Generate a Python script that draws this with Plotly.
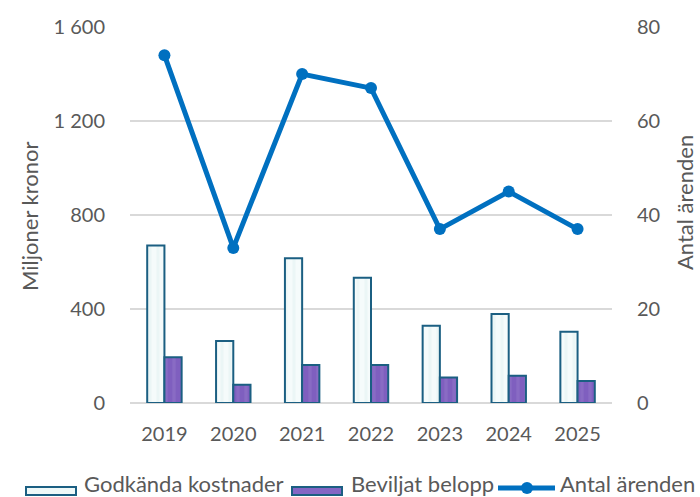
import plotly.graph_objects as go

years = ["2019", "2020", "2021", "2022", "2023", "2024", "2025"]
godkanda = [670, 264, 616, 533, 329, 379, 303]
beviljat = [195, 78, 162, 162, 108, 116, 94]
antal = [74, 33, 70, 67, 37, 45, 37]

left_ticks = [0, 400, 800, 1200, 1600]
left_ticktext = ["0", "400", "800", "1 200", "1 600"]
right_ticks = [0, 20, 40, 60, 80]

FONT = "Lato"
TXT = "#595959"
EDGE = "#1b5f82"
LINE = "#0070c0"

W, H = 700, 497
ML, MR, MT, MB = 130, 88, 27, 94
PW, PH = W - ML - MR, H - MT - MB


def px(x):
    return (x - ML) / PW


def py(y):
    return (H - MB - y) / PH


fig = go.Figure()
fig.add_trace(go.Bar(
    x=years, y=godkanda, name="Godkända kostnader", showlegend=False,
    marker=dict(color="#f3fafa", line=dict(color=EDGE, width=2),
                pattern=dict(shape="|", fgcolor="#e2f2f2", bgcolor="#f5fbfb", size=8, solidity=0.4)),
))
fig.add_trace(go.Bar(
    x=years, y=beviljat, name="Beviljat belopp", showlegend=False,
    marker=dict(color="#8464c2", line=dict(color=EDGE, width=2),
                pattern=dict(shape="|", fgcolor="#9377ca", bgcolor="#7f5fbf", size=8, solidity=0.4)),
))
fig.add_trace(go.Scatter(
    x=years, y=antal, name="Antal ärenden", yaxis="y2", showlegend=False,
    mode="lines+markers",
    line=dict(color=LINE, width=5),
    marker=dict(color=LINE, size=12),
))

# legend drawn manually (wide swatches as in the reference)
shapes = [
    dict(type="rect", xref="paper", yref="paper", x0=px(26), x1=px(76), y0=py(495), y1=py(487),
         fillcolor="#eef8f8", line=dict(color=EDGE, width=2)),
    dict(type="rect", xref="paper", yref="paper", x0=px(292), x1=px(342), y0=py(495), y1=py(487),
         fillcolor="#8466c4", line=dict(color=EDGE, width=2)),
    dict(type="line", xref="paper", yref="paper", x0=px(498), x1=px(555), y0=py(488), y1=py(488),
         line=dict(color=LINE, width=5)),
    dict(type="circle", xref="paper", yref="paper", x0=px(521), x1=px(533), y0=py(494), y1=py(482),
         fillcolor=LINE, line=dict(color=LINE, width=0)),
]
legend_labels = ["Godkända kostnader", "Beviljat belopp", "Antal ärenden"]
legend_x = [82, 349, 558]
annotations = [
    dict(text=t, xref="paper", yref="paper", x=px(xx), y=py(483), xanchor="left", yanchor="middle",
         showarrow=False, font=dict(size=22, color=TXT, family=FONT))
    for t, xx in zip(legend_labels, legend_x)
]
annotations += [
    dict(text="Miljoner kronor", xref="paper", yref="paper", x=px(29), y=py(216),
         xanchor="center", yanchor="middle", textangle=-90, showarrow=False,
         font=dict(size=22, color=TXT, family=FONT)),
    dict(text="Antal ärenden", xref="paper", yref="paper", x=px(684), y=py(203),
         xanchor="center", yanchor="middle", textangle=-90, showarrow=False,
         font=dict(size=22, color=TXT, family=FONT)),
]

fig.update_layout(
    width=W, height=H,
    margin=dict(l=ML, r=MR, t=MT, b=MB, autoexpand=False),
    paper_bgcolor="white", plot_bgcolor="white",
    font=dict(family=FONT, size=20, color=TXT),
    barmode="group", bargap=0.5, bargroupgap=0,
    showlegend=False,
    xaxis=dict(showgrid=False, showline=False, ticks="", ticklabelstandoff=17,
               tickfont=dict(size=20, color=TXT)),
    yaxis=dict(range=[0, 1600], tickvals=left_ticks, ticktext=left_ticktext,
               showgrid=True, gridcolor="#d9d9d9", gridwidth=1.5,
               zeroline=True, zerolinecolor="#d9d9d9", zerolinewidth=1.5,
               showline=False, ticks="", ticklabelstandoff=24,
               tickfont=dict(size=20, color=TXT)),
    yaxis2=dict(range=[0, 80], tickvals=right_ticks, overlaying="y", side="right",
                showgrid=False, zeroline=False, showline=False, ticks="",
                ticklabelstandoff=24, tickfont=dict(size=20, color=TXT)),
    shapes=shapes,
    annotations=annotations,
)

fig.write_html("out.html", config={"displayModeBar": False},
               post_script="document.body.style.margin='0';document.body.style.overflow='hidden';")
